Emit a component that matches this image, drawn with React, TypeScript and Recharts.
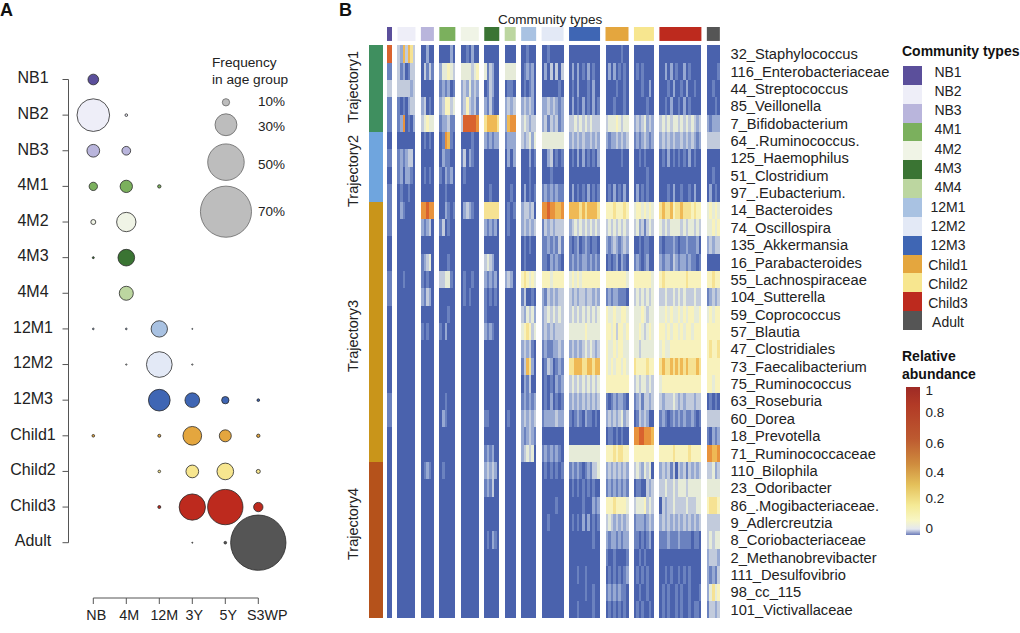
import { ScatterChart, Scatter, XAxis, YAxis, ReferenceLine } from 'recharts';

const FONT = '"Liberation Sans", Arial, sans-serif';

const communityTypes = ['NB1', 'NB2', 'NB3', '4M1', '4M2', '4M3', '4M4', '12M1', '12M2', '12M3', 'Child1', 'Child2', 'Child3', 'Adult'];
const communityColors = ['#5b4f9b', '#eeeef8', '#b9b5dc', '#7bb05d', '#f0f4e6', '#3a7433', '#bcd6a0', '#a9c2e2', '#e3e9f6', '#3f66b4', '#e4a63e', '#f7e68f', '#bd2a1e', '#555555'];
const communitySamples = [5, 18, 13, 16, 18, 15, 11, 15, 22, 31, 23, 20, 42, 13];

const ageGroups = ['NB', '4M', '12M', '3Y', '5Y', 'S3WP'];
const ageLabelShift = [3, 3, 5, 2, 3, 9];

// percent of each age group (columns) falling in each community type (rows)
const frequency = [
  [14.6, null, null, null, null, null],
  [44.7, 3.6, null, null, null, null],
  [17.4, 11.9, null, null, null, null],
  [11.4, 16.9, 4.6, null, null, null],
  [6.8, 26.5, null, null, null, null],
  [2.7, 22.8, null, null, null, null],
  [null, 19.2, null, null, null, null],
  [2.3, 2.3, 22.4, 1.4, null, null],
  [null, 1.8, 35.2, 1.8, null, null],
  [null, null, 29.7, 20.1, 10, 3.6],
  [3.6, null, 4.1, 25.6, 16.4, 4.6],
  [null, null, 3.6, 17.4, 22.8, 5.5],
  [null, null, 4.1, 36, 48.4, 12.8],
  [null, null, null, 1.4, 3.6, 75.8],
];

const sizeLegendValues = [10, 30, 50, 70];
const sizeLegendSlots = [0.64, 1.27, 2.32, 3.71];
const sizeLegendTextY = [102, 126.5, 165, 212];

const taxa = [
  '32_Staphylococcus', '116_Enterobacteriaceae', '44_Streptococcus', '85_Veillonella', '7_Bifidobacterium',
  '64_.Ruminococcus.', '125_Haemophilus', '51_Clostridium', '97_.Eubacterium.', '14_Bacteroides',
  '74_Oscillospira', '135_Akkermansia', '16_Parabacteroides', '55_Lachnospiraceae', '104_Sutterella',
  '59_Coprococcus', '57_Blautia', '47_Clostridiales', '73_Faecalibacterium', '75_Ruminococcus',
  '63_Roseburia', '60_Dorea', '18_Prevotella', '71_Ruminococcaceae', '110_Bilophila',
  '23_Odoribacter', '86_.Mogibacteriaceae.', '9_Adlercreutzia', '8_Coriobacteriaceae', '2_Methanobrevibacter',
  '111_Desulfovibrio', '98_cc_115', '101_Victivallaceae',
];

const trajectories = ['Trajectory1', 'Trajectory2', 'Trajectory3', 'Trajectory4'];
const trajectoryRows = [5, 4, 15, 9];
const trajectoryColors = ['#3f8f5f', '#6fa5de', '#c9951a', '#b5521b'];
const trajectoryLabelY = [87, 171, 336, 524];

// abundance level 0-9 -> colour
const levelColors = ['#4a62ad', '#6b82bf', '#97a9d2', '#c2cbdc', '#e6ebd8', '#f8f2bc', '#f6e293', '#efb955', '#e8923c', '#d9622e'];

// one line per taxon, one token per community type, one digit per stripe
const heatRows = [
  '9 3273763 00200 000020 0010200 0 0 001000 00100000 0 000000100 0 0 0',
  '1 3120133 03131 244543 4444345 413200 4444 012120 02030303 020201020100 020201010 01010000 0020201002010000 00001',
  '3 3333323 0 121201 2324232 013200 0110 010120 00000010 010200010200 000010010 00010020 0001020010200100 00100',
  '1 1010233 23010 235534 2353231 213100 2323 232320 22323212 020102010201 000100010 00000100 0010200102010000 00010',
  '1 1280102 34544 122311 3999998 677776 2788 343233 23132312 334343434333 344454344 23234232 3434344343434323 21222',
  '0 0 01010 018710 0000100 212122 1222 323424 44444444 232323223232 212232323 12123212 2323232232323212 33333',
  '1 1212330 0 021100 1302100 0 0202 000201 00230101 010202010102 000000100 00101000 0102010101020100 0',
  '0 1202210 01010 102120 0100000 0 0 000100 00010000 0 0 00000100 0 00100',
  '1 0100100 0 001000 0 001000 0010 020101 12121211 020101020101 010201020 02010100 0001020010010200 02010',
  '1 0210000 88988 002101 0232100 666666 0101 233230 88988778 777767677776 555655565 45545454 6766756676665655 45454',
  '1 0 21230 130100 0 212120 0100 232323 13232333 234343434343 343434343 34231343 4343444434344343 44545',
  '0 0 0 0 0 0 0 010100 11212131 101201210110 212321232 00101100 1011121011211120 23233',
  '0 0 12340 000100 0 343200 0 010000 11021210 121212212121 010120210 12101200 2122132122121101 0',
  '1 0010000 10100 334410 0100100 212120 2320 565454 55545555 454545555555 555555554 55555554 5655555555655555 55655',
  '1 0 21320 0 0101000 101010 0 130010 21323233 323233233232 121221110 34343434 3343343434333433 12323',
  '0 0 0 000100 0 100000 0 324342 23434343 343434343434 544544554 44454344 4454544545455445 45455',
  '0 0 10100 102000 0 212100 0 456534 23232333 444444544444 554535545 44543454 5545455454554555 5',
  '0 0 0 0 0 0 0 232310 12112232 232323434323 544545544 44344444 4544555555555555 56556',
  '0 0 0 0 0 0 0 137620 01320121 667776677677 545455454 65555655 6766767676766676 5',
  '0 0 0 0 0 0 0 021300 01010212 343434343434 5 34344343 4555555555555555 55455',
  '1 0 0 001000 0 0 0 121212 01020101 232323232323 101212210 12313323 3233343232333233 01010',
  '1 0 0 021000 0 110000 0100 232323 12222322 101210211010 232323423 01323200 1210121212112101 3',
  '0 0 0 0 0 0 0 212321 0 0 011010100 88998887 0 10212',
  '0 0 0 0 0 121200 0 234340 12121210 444444444444 555656655 5 5555565555565555 88778',
  '0 0 01210 010000 0 232320 0 0 01010101 121210121334 232323232 34324340 2323130323132323 33423',
  '0 0 0 0 0 121300 0 0 0 010101010100 121212121 01100323 3343343444344444 4',
  '0 0 0 0 0 0 0 0 00000100 000001000212 555655554 34445343 0323343333433344 56665',
  '0 0 0 0 0 0 0 0 00100000 010102020101 343232323 12221232 2323232323232323 3',
  '0 0 0 0 0 010210 0 0 0 000000000100 212212122 11010120 1112111211110110 34344',
  '0 0 0 0 0 0 0 0 0 0 100100001 00101000 0 23332',
  '0 0 0 0 0 0 0 0 0 000100100000 010101012 01010100 0010100101010000 21213',
  '0 0 0 0 0 0 0 0 0 000000100100 121212110 00100100 0101001010010001 24645',
  '0 0 0 0 0 0 0 0 0 000100000100 010101010 01010010 0101001010010110 13323',
];

const abundanceTicks = ['1', '0.8', '0.6', '0.4', '0.2', '0'];
const abundanceTickY = [391, 413, 444, 473, 499, 529];

// ---- panel A set-up
const colStep = 33;
const rowStep = 35.63;
const A_LEFT = 68.5;
const A_RIGHT = 300;
const A_TOP = 40;
const A_BOTTOM = 598;
const aXDomain = [(A_LEFT - 93.3) / colStep, (A_RIGHT - 93.3) / colStep];
const aYDomain = [(A_TOP - 79.5) / rowStep, (A_BOTTOM - 79.5) / rowStep];

const bubbleData = frequency.flatMap((row, r) =>
  row.flatMap((f, c) => (f == null ? [] : [{ col: c, row: r, freq: f, fill: communityColors[r] }])),
);
const sizeLegendData = sizeLegendValues.map((f, i) => ({ col: 4.02, row: sizeLegendSlots[i], freq: f, fill: '#bdbdbd' }));

const Bubble = (props: any) => (
  <circle
    cx={props.cx}
    cy={props.cy}
    r={props.payload.freq * 0.365}
    fill={props.payload.fill}
    stroke={props.payload.fill === '#bdbdbd' ? '#666' : '#2a2a2a'}
    strokeWidth={0.8}
  />
);

const RowTick = (props: any) => (
  <text x={33} y={props.y - 2} dy="0.36em" textAnchor="middle" fontSize={16} fill="#222" fontFamily={FONT}>
    {communityTypes[props.payload.value]}
  </text>
);

const ColTick = (props: any) => (
  <text
    x={props.x + ageLabelShift[props.payload.value]}
    y={615}
    dy="0.36em"
    textAnchor="middle"
    fontSize={14.3}
    fill="#222"
    fontFamily={FONT}
  >
    {ageGroups[props.payload.value]}
  </text>
);

// ---- panel B set-up
const GAP = 5.45;
const B_X_MIN = -18;
const B_X_MAX = 333.5;
const B_WIDTH = B_X_MAX - B_X_MIN;
const B_HEIGHT = 591.3;
const Y_MIN = -1.05;
const ROW_H = B_HEIGHT / (taxa.length - Y_MIN);

const groupStart = communitySamples.map((_, i) =>
  communitySamples.slice(0, i).reduce((a, b) => a + b, 0) + i * GAP,
);

const heatData = heatRows.flatMap((line, r) =>
  line.split(' ').flatMap((stripes, g) => {
    const w = communitySamples[g] / stripes.length;
    return stripes.split('').map((d, s) => ({
      x: groupStart[g] + (s + 0.5) * w,
      y: r + 0.5,
      w,
      level: Number(d),
    }));
  }),
);

const topBarData = communityTypes.map((name, g) => ({
  x: groupStart[g] + communitySamples[g] / 2,
  y: -0.65,
  w: communitySamples[g],
  fill: communityColors[g],
}));

const sideRowOwner = trajectoryRows.flatMap((n, t) => Array.from({ length: n }, () => t));
const sideData = sideRowOwner.map((t, r) => ({ x: -11, y: r + 0.5, fill: trajectoryColors[t] }));

const HeatCell = (props: any) => (
  <rect
    x={props.cx - props.payload.w / 2}
    y={props.cy - ROW_H / 2}
    width={props.payload.w}
    height={ROW_H}
    fill={levelColors[props.payload.level]}
    shapeRendering="crispEdges"
  />
);
const TopCell = (props: any) => (
  <rect x={props.cx - props.payload.w / 2} y={props.cy - 7} width={props.payload.w} height={14} fill={props.payload.fill} />
);
const SideCell = (props: any) => (
  <rect x={props.cx - 7} y={props.cy - ROW_H / 2} width={14} height={ROW_H} fill={props.payload.fill} shapeRendering="crispEdges" />
);

const Txt = ({ x, y, size = 13.5, bold, center, children }: any) => (
  <div
    style={{
      position: 'absolute',
      left: x,
      top: y,
      transform: center ? 'translate(-50%, -50%)' : 'translateY(-50%)',
      fontSize: size,
      fontWeight: bold ? 700 : 400,
      whiteSpace: 'nowrap',
      color: bold ? '#111' : '#222',
      lineHeight: 1,
    }}
  >
    {children}
  </div>
);

const App = () => {
  return (
    <div style={{ position: 'absolute', left: 0, top: 0, width: 1020, height: 633, background: 'white', fontFamily: FONT, overflow: 'hidden' }}>
      <style>{`.heat .recharts-scatter { filter: blur(0.45px); }`}</style>

      <Txt x={0} y={10} size={18} bold>A</Txt>
      <Txt x={339} y={10} size={18} bold>B</Txt>

      {/* panel A */}
      <div style={{ position: 'absolute', left: 0, top: 0 }}>
        <ScatterChart width={340} height={633} margin={{ left: 0, top: A_TOP, right: 340 - A_RIGHT, bottom: 0 }}>
          <XAxis
            type="number"
            dataKey="col"
            domain={aXDomain}
            ticks={[0, 1, 2, 3, 4, 5]}
            interval={0}
            height={633 - A_BOTTOM}
            allowDataOverflow
            axisLine={false}
            tickLine={{ stroke: '#555' }}
            tick={<ColTick />}
          />
          <YAxis
            type="number"
            dataKey="row"
            reversed
            domain={aYDomain}
            ticks={communityTypes.map((_, i) => i)}
            interval={0}
            width={A_LEFT}
            allowDataOverflow
            axisLine={false}
            tickLine={{ stroke: '#555' }}
            tick={<RowTick />}
          />
          <ReferenceLine segment={[{ x: aXDomain[0], y: 0 }, { x: aXDomain[0], y: 13 }]} stroke="#555" ifOverflow="visible" />
          <ReferenceLine segment={[{ x: 0, y: aYDomain[1] }, { x: 5, y: aYDomain[1] }]} stroke="#555" ifOverflow="visible" />
          <Scatter data={bubbleData} shape={<Bubble />} isAnimationActive={false} />
          <Scatter data={sizeLegendData} shape={<Bubble />} isAnimationActive={false} />
        </ScatterChart>
      </div>

      <Txt x={212} y={63} size={13.7}>Frequency</Txt>
      <Txt x={212} y={80} size={13.7}>in age group</Txt>
      {sizeLegendValues.map((v, i) => (
        <Txt key={v} x={258} y={sizeLegendTextY[i]}>{v}%</Txt>
      ))}

      {/* panel B */}
      <div style={{ position: 'absolute', left: 369, top: 27 }}>
        <ScatterChart className="heat" width={B_WIDTH + 180} height={B_HEIGHT} margin={{ left: 0, top: 0, right: 0, bottom: 0 }}>
          <XAxis type="number" dataKey="x" domain={[B_X_MIN, B_X_MAX]} hide allowDataOverflow />
          <YAxis
            type="number"
            dataKey="y"
            orientation="right"
            reversed
            domain={[Y_MIN, taxa.length]}
            ticks={taxa.map((_, i) => i + 0.5)}
            interval={0}
            width={180}
            axisLine={false}
            tickLine={false}
            tickMargin={4}
            tick={{ fontSize: 14.7, fill: '#222', fontFamily: FONT }}
            tickFormatter={(v: number) => taxa[Math.floor(v)]}
          />
          <Scatter data={heatData} shape={<HeatCell />} isAnimationActive={false} />
          <Scatter data={topBarData} shape={<TopCell />} isAnimationActive={false} />
          <Scatter data={sideData} shape={<SideCell />} isAnimationActive={false} />
        </ScatterChart>
      </div>

      <Txt x={498} y={20}>Community types</Txt>
      {trajectories.map((t, i) => (
        <div
          key={t}
          style={{
            position: 'absolute',
            left: 353,
            top: trajectoryLabelY[i],
            transform: 'translate(-50%, -50%) rotate(-90deg)',
            fontSize: 14.5,
            color: '#222',
            whiteSpace: 'nowrap',
          }}
        >
          {t}
        </div>
      ))}

      {/* legends */}
      <Txt x={902} y={51} size={14} bold>Community types</Txt>
      {communityTypes.map((name, i) => (
        <div key={name}>
          <div style={{ position: 'absolute', left: 902.5, top: 66 + i * 18.86, width: 19, height: 18.9, background: communityColors[i] }} />
          <Txt x={948} y={71.5 + i * 19.3} size={14} center>{name}</Txt>
        </div>
      ))}

      <Txt x={902} y={356} size={14} bold>Relative</Txt>
      <Txt x={902} y={374} size={14} bold>abundance</Txt>
      <div
        style={{
          position: 'absolute',
          left: 906,
          top: 387,
          width: 14,
          height: 148,
          background:
            'linear-gradient(to bottom, #9e2a25 0%, #b23a26 12%, #bd5a30 35%, #cf8c3e 52%, #e4c05a 66%, #f5ea96 80%, #f8f6c4 90%, #e4e8f0 96%, #6a7ab8 100%)',
        }}
      />
      {abundanceTicks.map((t, i) => (
        <Txt key={t} x={925.5} y={abundanceTickY[i]} size={13.5}>{t}</Txt>
      ))}
    </div>
  );
};

export default App;
